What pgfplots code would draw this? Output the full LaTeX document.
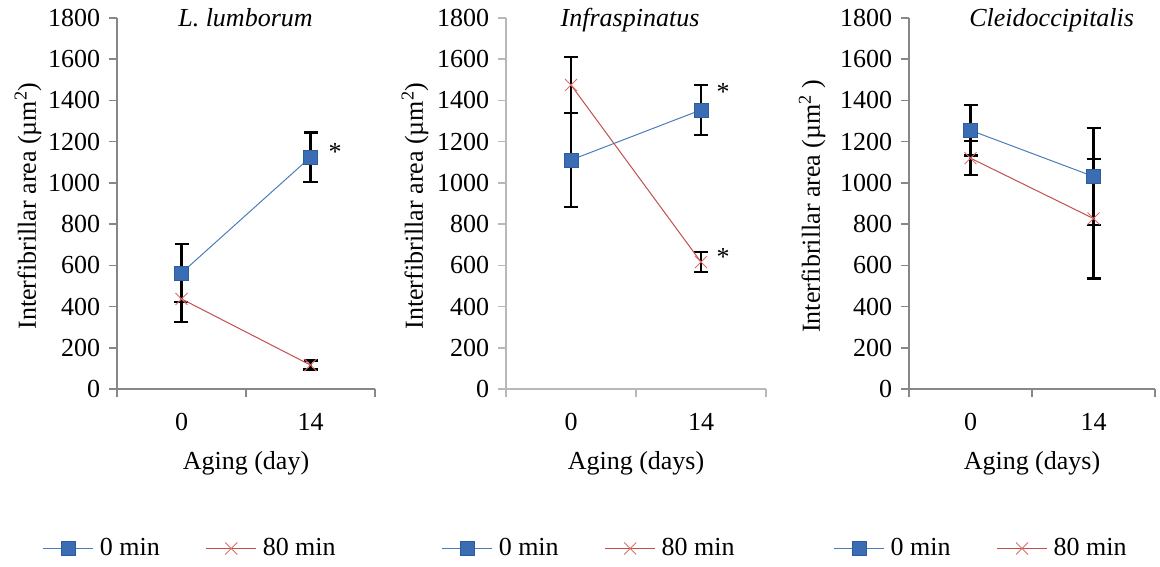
\documentclass[border=0pt]{standalone}
\usepackage{fontspec}
\setmainfont{Liberation Serif}
\usepackage{pgfplots}
\pgfplotsset{compat=1.18}

\definecolor{blueline}{HTML}{4A7EBB}
\definecolor{bluefill}{HTML}{3A6DB3}
\definecolor{blueedge}{HTML}{2E5C99}
\definecolor{redline}{HTML}{C0504D}
\definecolor{redmark}{HTML}{DB6E6B}
\definecolor{axisdark}{HTML}{878787}
\definecolor{axislight}{HTML}{B8B8B8}

\pgfplotsset{
  panel/.style={
    scale only axis, height=371pt,
    ymin=0, ymax=1800, xmin=-0.5, xmax=1.5,
    axis x line*=bottom, axis y line*=left,
    axis line style={line width=1.6pt},
    tick style={line width=1.6pt},
    major tick length=8pt,
    tick align=outside,
    ytick={0,200,400,600,800,1000,1200,1400,1600,1800},
    xtick={-0.5,0.5,1.5}, xticklabels={},
    extra x ticks={0,1}, extra x tick labels={0,14},
    extra x tick style={major tick length=0pt, tick style={draw=none},
      xticklabel style={yshift=-15pt}},
    /pgf/number format/assume math mode=true,
    /pgf/number format/1000 sep={},
    clip=false,
    title style={anchor=base, font=\itshape},
    xlabel style={at={(axis description cs:0.5,-0.217)}, anchor=base},
    legend columns=2,
    legend style={draw=none, fill=none, anchor=center,
      /tikz/every odd column/.append style={column sep=4pt},
      /tikz/every even column/.append style={column sep=44pt}},
    legend image code/.code={
      \draw[##1, mark repeat=2, mark phase=2]
        plot coordinates {(0pt,0pt) (25pt,0pt) (50pt,0pt)};},
  },
  ebar/.style={forget plot, draw=none, mark=none,
    error bars/.cd, y dir=both, y explicit,
    error bar style={draw=black, solid, line width=2.4pt},
    error mark options={draw=black, solid, line width=2.4pt, mark size=7pt, rotate=90}},
  ser0/.style={color=blueline, line width=1pt, mark=square*, mark size=7pt,
    mark options={fill=bluefill, draw=blueedge, line width=0.6pt}},
  ser80/.style={color=redline, line width=1pt, mark=x, mark size=8.5pt,
    mark options={draw=redmark, line width=0.9pt}},
}

\begin{document}
{\fontsize{26}{31}\selectfont
\begin{tikzpicture}
\path[use as bounding box] (0,0) rectangle (1160pt,567pt);

% Longissimus lumborum
\begin{axis}[panel, width=258pt, at={(117pt,178pt)}, anchor=south west,
    axis line style={draw=axisdark}, tick style={draw=axisdark},
    title={L. lumborum}, title style={at={(axis description cs:0.498,0.962)}},
    xlabel={Aging (day)},
    ylabel={Interfibrillar area (µm\textsuperscript{2})},
    ylabel style={at={(axis description cs:-0.345,0.493)}, anchor=center},
    legend style={at={(axis description cs:0.284,-0.43)}}]
  \addplot[ebar] coordinates {(0,563) +- (0,140) (1,1125) +- (0,120)};
  \addplot[ebar] coordinates {(0,437) +- (0,112) (1,116) +- (0,22)};
  \addplot[ser0] coordinates {(0,563) (1,1125)};
  \addlegendentry{0 min}
  \addplot[ser80] coordinates {(0,437) (1,116)};
  \addlegendentry{80 min}
  \node[anchor=base] at (axis cs:1.19,1111) {*};
\end{axis}

% Infraspinatus
\begin{axis}[panel, width=260pt, at={(506pt,178pt)}, anchor=south west,
    axis line style={draw=axislight}, tick style={draw=axislight},
    title={Infraspinatus}, title style={at={(axis description cs:0.477,0.962)}},
    xlabel={Aging (days)},
    ylabel={Interfibrillar area (µm\textsuperscript{2})},
    ylabel style={at={(axis description cs:-0.35,0.493)}, anchor=center},
    legend style={at={(axis description cs:0.32,-0.43)}}]
  \addplot[ebar] coordinates {(0,1111) +- (0,228) (1,1354) +- (0,121)};
  \addplot[ebar] coordinates {(0,1475) +- (0,136) (1,616) +- (0,48)};
  \addplot[ser0] coordinates {(0,1111) (1,1354)};
  \addlegendentry{0 min}
  \addplot[ser80] coordinates {(0,1475) (1,616)};
  \addlegendentry{80 min}
  \node[anchor=base] at (axis cs:1.17,1402) {*};
  \node[anchor=base] at (axis cs:1.17,597) {*};
\end{axis}

% Cleidoccipitalis
\begin{axis}[panel, width=246pt, at={(909pt,178pt)}, anchor=south west,
    axis line style={draw=axisdark}, tick style={draw=axisdark},
    title={Cleidoccipitalis}, title style={at={(axis description cs:0.58,0.962)}},
    xlabel={Aging (days)},
    ylabel={Interfibrillar area (µm\textsuperscript{2} )},
    ylabel style={at={(axis description cs:-0.394,0.493)}, anchor=center},
    legend style={at={(axis description cs:0.293,-0.43)}}]
  \addplot[ebar] coordinates {(0,1255) +- (0,122) (1,1031) +- (0,234)};
  \addplot[ebar] coordinates {(0,1120) +- (0,82) (1,827) +- (0,290)};
  \addplot[ser0] coordinates {(0,1255) (1,1031)};
  \addlegendentry{0 min}
  \addplot[ser80] coordinates {(0,1120) (1,827)};
  \addlegendentry{80 min}
\end{axis}
\end{tikzpicture}}
\end{document}
